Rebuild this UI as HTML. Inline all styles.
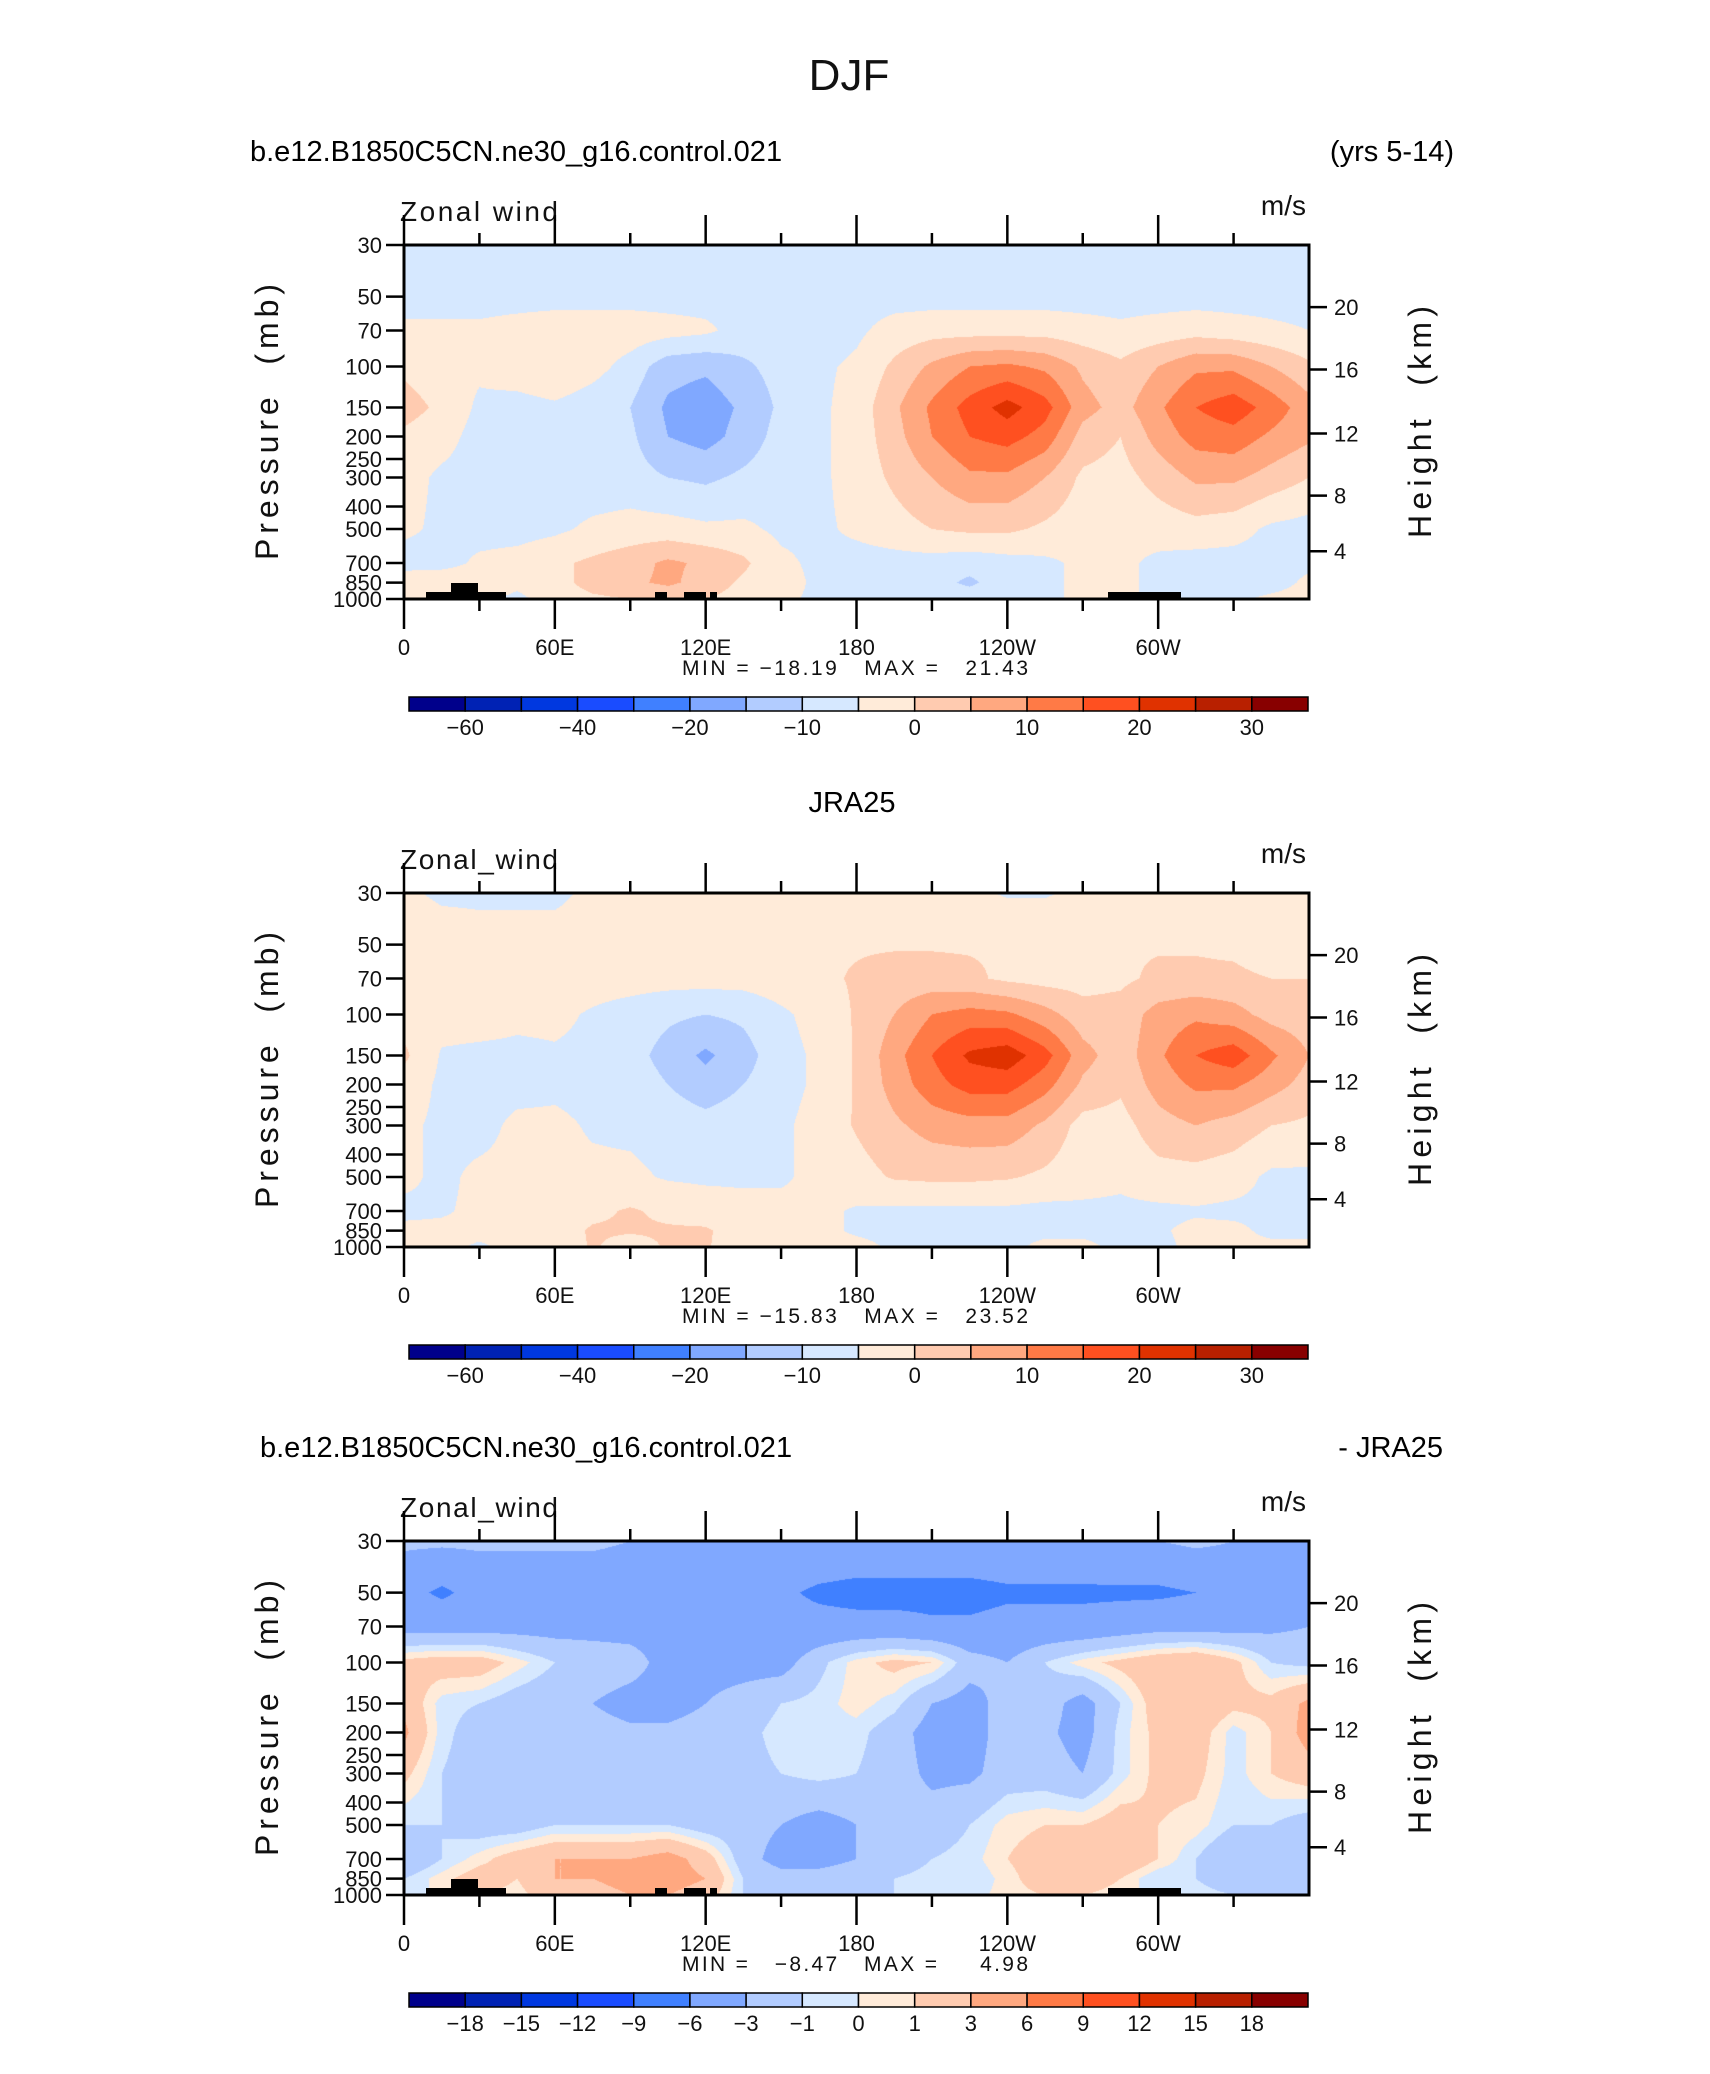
<!DOCTYPE html>
<html><head><meta charset="utf-8">
<style>
html,body{margin:0;padding:0;background:#fff;}
body{width:1710px;height:2074px;position:relative;overflow:hidden;font-family:"Liberation Sans Narrow","Liberation Sans",sans-serif;}
canvas{position:absolute;left:0;top:0;}
svg{position:absolute;left:0;top:0;}
text{white-space:pre;}
</style></head><body>
<canvas id="cv" width="1710" height="2074"></canvas>
<svg id="sv" width="1710" height="2074" xmlns="http://www.w3.org/2000/svg"></svg>
<script>
const lons=[0,15,30,45,60,75,90,105,120,135,150,165,180,195,210,225,240,255,270,285,300,315,330,345,360];
const levels=[30,50,70,100,150,200,300,500,700,850,1000];
const pTicks=[30,50,70,100,150,200,250,300,400,500,700,850,1000];
const hTicks=[20,16,12,8,4];
const hTickP=[55.5,103,194,359,623];
const lonTicks=[0,60,120,180,240,300];
const lonLabels=['0','60E','120E','180','120W','60W'];
const bounds12=[-60,-50,-40,-30,-20,-15,-10,-5,0,5,10,15,20,25,30];
const labels12=['-60','-40','-20','-10','0','10','20','30'];
const bounds3=[-18,-15,-12,-9,-6,-3,-1,0,1,3,6,9,12,15,18];
const labels3=['-18','-15','-12','-9','-6','-3','-1','0','1','3','6','9','12','15','18'];
const colors=['#00008b','#0022b4','#0038e0','#1a4cff','#4080ff','#80a8ff','#b2ccff','#d6e8ff','#ffebd9','#ffcbb0','#ffa880','#ff7a46','#ff5020','#e03200','#b82000','#880000'];
const model=[
[-8,-8,-8,-8,-8,-8,-8,-8,-8,-8,-8,-8,-8,-8,-8,-8,-8,-8,-8,-8,-8,-8,-8,-8,-8],
[-7,-7,-7,-7,-7,-7,-7,-7,-7,-7,-7,-7,-7,-7,-7,-7,-7,-7,-7,-7,-7,-7,-7,-7,-7],
[-4,-4,-4,-3,-2,-2,-2,-3,-4,-7,-8,-8,-6,-3,-2,-2,-2,-2,-3,-4,-3,-2,-3,-4,-5],
[-1,-3,-4,-2,0,-3,-7,-13,-14,-11,-8,-6,-4,1,6,10,11,9,4,1,5,9,9,5,1],
[2,-1,-6,-7,-6,-8,-10,-16,-18,-14,-9,-6,-3,4,11,17,22,17,7,3,9,15,18,13,7],
[-1,-3,-7,-8,-8,-8,-9,-15,-17,-13,-8,-6,-3,3,10,15,17,13,3,0,7,12,13,9,6],
[-3,-6,-7,-8,-8,-8,-8,-10,-11,-9,-7,-6,-3,1,5,9,9,5,-1,-2,2,6,6,3,0],
[-4,-6,-7,-7,-6,-4,-3,-3,-4,-4,-6,-6,-4,-2,0,1,1,-1,-3,-4,-3,-2,-3,-6,-7],
[-7,-7,-4,-3,-1,1,3,6,4,1,-4,-6,-7,-7,-7,-8,-7,-6,-4,-4,-6,-7,-7,-7,-6],
[-2,-1,-2,-4,-2,2,4,6,3,-1,-3,-6,-7,-7,-8,-11,-7,-6,-4,-4,-6,-7,-7,-7,-4],
[-3,-2,-4,-6,-3,-1,0,1,0,-2,-4,-6,-7,-7,-7,-7,-7,-6,-4,-4,-6,-6,-6,-4,-3]];
const obs=[
[-4,-6,-6,-6,-6,-4,-4,-4,-4,-4,-4,-4,-4,-4,-4,-4,-5.5,-5.5,-4,-4,-4,-4,-4,-4,-4],
[-1,-2,-3,-3,-3,-3,-3,-3,-2,-1,-0.5,-0.5,-0.5,-0.5,-0.5,-0.5,-0.5,-0.5,-0.5,-0.5,-0.5,-0.5,-1,-3,-3],
[-3,-3,-3,-3,-3,-3,-3,-3,-3,-3,-2,-1,0.5,2,2,1,-1,-2,-2,-1,1,1,1,0,0],
[-2,-3,-3,-4,-4,-5.5,-7,-9,-10,-9,-6,-3,0.5,5,10,12,11,7,2,2,7,9,7,3,2],
[1,-5.5,-6,-6,-5.5,-6,-8,-12,-16,-12,-7,-4,0.5,8,15,21,23,17,7,2,9,15,18,11,5],
[-2,-6,-7,-6.5,-6,-6.5,-7,-10,-13,-10,-7,-4,0.5,7,13,17,17,12,4,1,7,11,11,7,3],
[-4,-6,-6.5,-4,-4,-5.5,-6,-7,-8,-7,-6,-3,0.5,4,7,8,8,4,-2,-2,3,5,3,0,-1],
[-4,-6,-4,-4,-4,-4,-4,-5.5,-6,-6,-5.5,-4,-2,0.5,1,1,0.5,-1,-3,-4,-2,-2,-3,-6,-6],
[-6,-5.5,-4,-4,-3,-1,0.5,-1,-2,-3,-4,-4,-5.5,-6,-6,-6,-6,-6.5,-6,-6,-6,-5.5,-6,-6,-6],
[-4,-4,-4,-4,-2,0.5,0.5,0.5,0.5,-2,-4,-4,-5.5,-6,-6.5,-6.5,-6,-6,-6,-6,-5.5,-4,-4,-6,-6],
[-3,-4,-5.5,-4,-3,0.5,-2,0.5,0.5,-3,-4,-4,-4,-5.5,-6,-6,-6,-4,-4,-6,-6,-4,-4,-4,-4]];
const diff=[
[-2.5,-2.5,-2.5,-2.5,-2.5,-2.5,-3,-3.5,-3.5,-3.5,-3.5,-3.5,-3.5,-3.5,-3.5,-3.5,-3.5,-3.5,-3.5,-3,-3,-2.5,-3,-3.5,-3.5],
[-5,-6.5,-5,-5,-5,-5,-5,-5,-5,-5,-5.5,-6.5,-7,-7,-7,-7,-6.5,-6.5,-6.5,-6.5,-6.5,-6,-5,-5,-4],
[-4,-4,-4,-4,-4,-4,-4,-4,-4,-4.5,-5,-5,-5,-5,-5.5,-5.5,-5,-5,-5,-4.5,-4,-4,-4,-3.5,-3],
[1.5,2,2,0.5,-1,-1.5,-2,-4,-4,-4,-4,-1.5,0.5,1.5,1,-2,-3,-1,0.5,1.5,2.5,3,1.5,-1,-1.5],
[2.5,-0.5,-1,-2,-2.5,-3,-4,-4,-3,-2,-1,-0.5,0.5,-0.5,-3,-4,-2,-2,-4,-1,2,3,1.5,1.5,3.5],
[3.5,-0.5,-2,-2,-2,-2,-2.5,-2.5,-2,-1.5,-0.5,-0.5,-0.5,-2,-4,-4,-2,-2.5,-4,-0.5,1.5,2,-0.5,1,4],
[1.5,-1,-2,-2,-2,-2,-2,-2,-2,-1.5,-1,-0.5,-1,-2,-3.5,-3.5,-2,-2,-3,-0.5,1.5,1.5,-0.5,1,2],
[-1,-1,-2,-2,-1,-1,-1,-1,-2,-2,-3,-4,-3,-2,-2,-1,0.5,1,1,2,1,0.5,-1,-1,-2],
[-3,-1,0.5,2,3,3,3,4,2,-2,-4,-4,-3,-2,-1,-0.5,1,2,3,3,1,-1,-3,-3,-3],
[-1,0.5,2,1,3,3,4,4,3,-1,-2,-2,-1.5,-1,-0.5,-1,0.5,2,2,1,-1,-1,-2,-2,-1],
[-1,0.5,1,0.5,2,2,3,3,2,-1,-1,-1,-1,-1,-0.5,-0.5,0.5,1,1,0.5,-0.5,-0.5,-1,-1,-1]];

const X0=404,W=905,H=354,TOP=245;
const offs=[0,648,1296];
const lp0=Math.log(30),lp1=Math.log(1000);
function yOfP(p,o){return TOP+o+(Math.log(p)-lp0)/(lp1-lp0)*H;}
function xOfLon(l){return X0+l/360*W;}
function lonOfX(x){return (x-X0)/W*360;}
function pOfY(y,o){return Math.exp(lp0+(y-TOP-o)/H*(lp1-lp0));}
function sample(grid,lon,p){
  let i=Math.min(lons.length-2,Math.max(0,Math.floor(lon/15)));
  let fx=(lon-lons[i])/15;
  let lp=Math.log(p),j=0;
  while(j<levels.length-2&&Math.log(levels[j+1])<lp)j++;
  let fy=(lp-Math.log(levels[j]))/(Math.log(levels[j+1])-Math.log(levels[j]));
  fx=Math.max(0,Math.min(1,fx));fy=Math.max(0,Math.min(1,fy));
  const a=grid[j][i],b=grid[j][i+1],c=grid[j+1][i],d=grid[j+1][i+1];
  return (a*(1-fx)+b*fx)*(1-fy)+(c*(1-fx)+d*fx)*fy;
}
function colorIdx(v,b){let k=0;while(k<b.length&&v>=b[k])k++;return k;}
function hex(c){return [parseInt(c.substr(1,2),16),parseInt(c.substr(3,2),16),parseInt(c.substr(5,2),16)];}
const rgb=colors.map(hex);
const cv=document.getElementById('cv');const ctx=cv.getContext('2d');
const grids=[model,obs,diff];const bnds=[bounds12,bounds12,bounds3];
grids.forEach((g,gi)=>{
  const o=offs[gi];const img=ctx.createImageData(W,H);
  for(let yy=0;yy<H;yy++){const p=pOfY(TOP+o+yy+0.5,o);
    for(let xx=0;xx<W;xx++){const v=sample(g,lonOfX(X0+xx+0.5),p);
      const c=rgb[colorIdx(v,bnds[gi])];const k=(yy*W+xx)*4;
      img.data[k]=c[0];img.data[k+1]=c[1];img.data[k+2]=c[2];img.data[k+3]=255;}}
  ctx.putImageData(img,X0,TOP+o);
});
const sv=document.getElementById('sv');const NS='http://www.w3.org/2000/svg';
function el(tag,attrs,txt){const e=document.createElementNS(NS,tag);for(const k in attrs)e.setAttribute(k,attrs[k]);if(txt!==undefined)e.textContent=txt;sv.appendChild(e);return e;}
const FF='"Liberation Sans Narrow","Liberation Sans",sans-serif';
let t=el('text',{x:849,y:90,'font-size':44,'text-anchor':'middle','font-family':FF,fill:'#111'},'DJF');


const leftTitles=[['b.e12.B1850C5CN.ne30_g16.control.021',250,161],['JRA25',852,812],['b.e12.B1850C5CN.ne30_g16.control.021',260,1457]];
const rightTitles=[['(yrs 5-14)',1454,161],null,['- JRA25',1443,1457]];
const minmax=['MIN = \u221218.19   MAX =   21.43','MIN = \u221215.83   MAX =   23.52','MIN =   \u22128.47   MAX =     4.98'];
const varNames=['Zonal wind','Zonal_wind','Zonal_wind'];
const topo=[[426,506,7],[451,478,16],[655,667,7],[684,706,7],[710,717,7],[1108,1181,7]];
offs.forEach((o,pi)=>{
  const lt=leftTitles[pi];
  t=el('text',{x:lt[1],y:lt[2],'font-size':29,'text-anchor':pi==1?'middle':'start','font-family':'"Liberation Sans",sans-serif',fill:'#000'},lt[0]);
  
  
  if(rightTitles[pi]){const r=rightTitles[pi];
    t=el('text',{x:r[1],y:r[2],'font-size':29,'text-anchor':'end','font-family':'"Liberation Sans",sans-serif',fill:'#000'},r[0]);
    
    }
  t=el('text',{x:400,y:221+o,'font-size':28,'font-family':FF,fill:'#111',textLength:158,lengthAdjust:'spacing'},varNames[pi]);
  
  
  t=el('text',{x:1306,y:215+o,'font-size':28,'text-anchor':'end','font-family':FF,fill:'#111'},'m/s');
  
  
  if(pi!==1){topo.forEach(r=>{const e=el('rect',{x:r[0],y:TOP+o+H-r[2],width:r[1]-r[0],height:r[2],fill:'#000'});
    
    });}
  const fr=el('rect',{x:X0,y:TOP+o,width:W,height:H,fill:'none',stroke:'#000','stroke-width':3});
  
  
  for(let l=0;l<360;l+=30){const x=xOfLon(l);const maj=l%60==0;
    el('line',{x1:x,y1:TOP+o,x2:x,y2:TOP+o-(maj?30:12),stroke:'#000','stroke-width':2.5});
    el('line',{x1:x,y1:TOP+o+H,x2:x,y2:TOP+o+H+(maj?30:12),stroke:'#000','stroke-width':2.5});}
  lonTicks.forEach((l,i)=>{t=el('text',{x:xOfLon(l),y:655+o,'font-size':22,'text-anchor':'middle','font-family':FF,fill:'#111'},lonLabels[i]);
    
    });
  pTicks.forEach(p=>{const y=yOfP(p,o);el('line',{x1:X0-18,y1:y,x2:X0,y2:y,stroke:'#000','stroke-width':2.5});
    t=el('text',{x:X0-22,y:y+8,'font-size':22,'text-anchor':'end','font-family':FF,fill:'#111'},String(p));
    
    });
  hTicks.forEach((h,i)=>{const y=yOfP(hTickP[i],o);el('line',{x1:X0+W,y1:y,x2:X0+W+18,y2:y,stroke:'#000','stroke-width':2.5});
    t=el('text',{x:X0+W+25,y:y+8,'font-size':22,'font-family':FF,fill:'#111'},String(h));
    
    });
  t=el('text',{x:0,y:0,'font-size':32,'text-anchor':'middle','font-family':FF,fill:'#111',textLength:276,lengthAdjust:'spacing',transform:`translate(278,${TOP+o+H/2}) rotate(-90)`},'Pressure  (mb)');
  
  
  t=el('text',{x:0,y:0,'font-size':32,'text-anchor':'middle','font-family':FF,fill:'#111',textLength:232,lengthAdjust:'spacing',transform:`translate(1431,${TOP+o+H/2}) rotate(-90)`},'Height  (km)');
  
  
  t=el('text',{x:855,y:675+o,'font-size':21,'text-anchor':'middle','font-family':FF,fill:'#111',textLength:346,lengthAdjust:'spacing'},minmax[pi]);
  
  
  const cx0=409,cw=(1308-409)/16,cy=697+o;
  colors.forEach((c,k)=>{const r=el('rect',{x:cx0+k*cw,y:cy,width:cw,height:14,fill:c,stroke:'#000','stroke-width':1.5});
    
    });
  if(pi<2){labels12.forEach((lb,i)=>{t=el('text',{x:cx0+(1+2*i)*cw,y:735+o,'font-size':22,'text-anchor':'middle','font-family':FF,fill:'#111'},lb.replace('-','\u2212'));
      
      });}
  else{labels3.forEach((lb,i)=>{t=el('text',{x:cx0+(1+i)*cw,y:735+o,'font-size':22,'text-anchor':'middle','font-family':FF,fill:'#111'},lb.replace('-','\u2212'));
      
      });}
});
</script>
</body></html>
